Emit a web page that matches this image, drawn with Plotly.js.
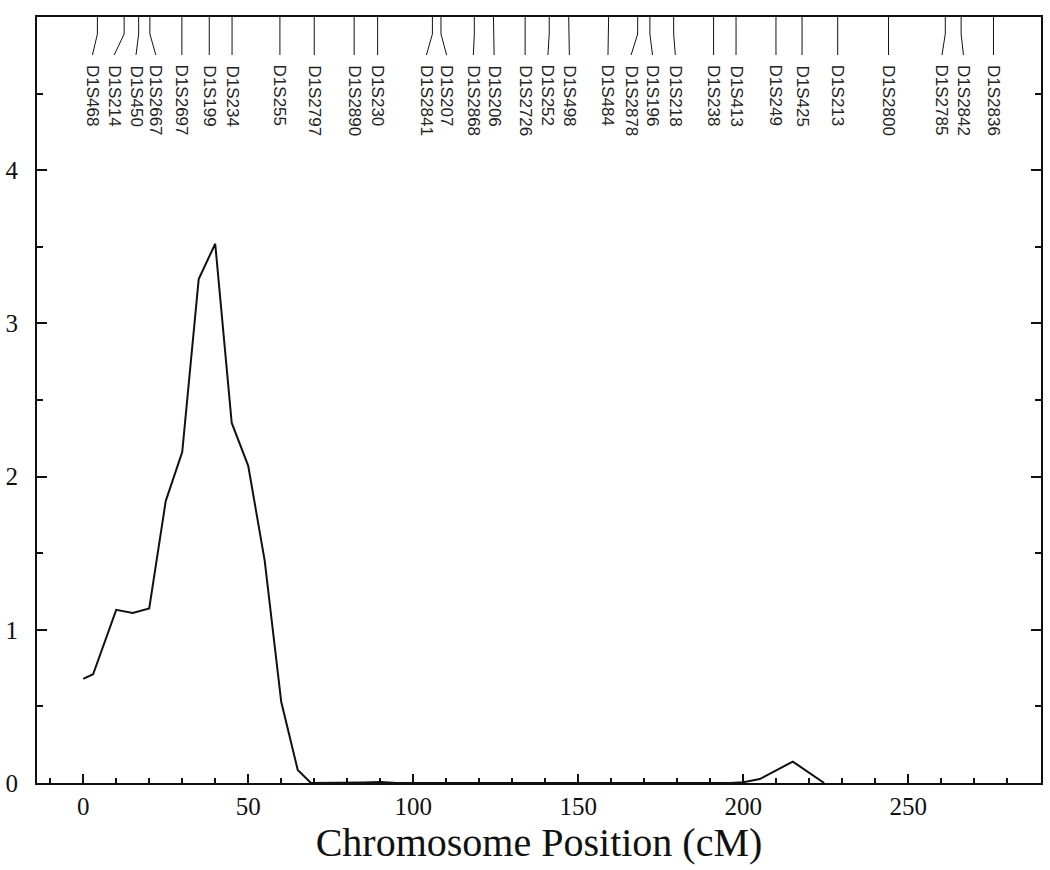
<!DOCTYPE html>
<html>
<head>
<meta charset="utf-8">
<script src="https://cdn.plot.ly/plotly-3.0.1.min.js"></script>
<style>
  body { margin: 0; background: #fff; }
  #plot { width: 1050px; height: 870px; }
</style>
</head>
<body>
<div id="plot"></div>
<script>
// LOD curve along chromosome 1
var pos_cM = [0, 3, 10, 15, 20, 25, 30, 35, 40, 45, 50, 55, 60, 65, 69, 75, 80, 85, 90, 95, 100,
              110, 120, 125, 130, 140, 150, 160, 170, 180, 190, 196, 200, 205, 215, 220, 224.5];
var lod = [0.68, 0.71, 1.13, 1.11, 1.14, 1.84, 2.16, 3.29, 3.52, 2.35, 2.07, 1.45, 0.53, 0.085, 0, 0, 0, 0.004, 0.006, 0, 0,
           0, 0, 0.004, 0.003, 0, 0, 0, 0, 0, 0, 0, 0.005, 0.026, 0.14, 0.065, 0];

// marker map along the top
var marker_names = ["D1S468", "D1S214", "D1S450", "D1S2667", "D1S2697", "D1S199", "D1S234", "D1S255",
                    "D1S2797", "D1S2890", "D1S230", "D1S2841", "D1S207", "D1S2868", "D1S206", "D1S2726",
                    "D1S252", "D1S498", "D1S484", "D1S2878", "D1S196", "D1S218", "D1S238", "D1S413",
                    "D1S249", "D1S425", "D1S213", "D1S2800", "D1S2785", "D1S2842", "D1S2836"];
var marker_pos = [4.3, 12.4, 16.8, 20.2, 29.9, 38.2, 45.1, 59.6,
                  70.0, 82.1, 89.2, 105.8, 108.4, 118.5, 124.3, 133.9,
                  141.2, 147.1, 159.2, 168.0, 171.7, 178.9, 191.0, 197.8,
                  209.9, 217.8, 228.6, 244.0, 261.2, 266.0, 275.8];
var label_pos = [2.8, 9.4, 16.0, 22.0, 29.9, 38.2, 45.1, 59.6,
                 70.0, 82.1, 89.2, 104.0, 110.1, 118.2, 124.5, 133.9,
                 140.8, 147.3, 159.0, 166.0, 172.5, 179.4, 191.0, 197.8,
                 209.9, 217.8, 228.6, 244.0, 260.2, 266.7, 275.8];

var plot_h = 766; // px height of plot area, used for the marker overlay axis
var drop1 = 17, drop2 = 38, label_top = 46;

var mx = [], my = [];
for (let i = 0; i < marker_pos.length; i++) {
    mx.push(marker_pos[i], marker_pos[i], label_pos[i], null);
    my.push(0, drop1, drop2, null);
}

var curve = {
    x: pos_cM, y: lod, type: 'scatter', mode: 'lines',
    line: { color: '#111', width: 2 }, hoverinfo: 'skip'
};
var marker_lines = {
    x: mx, y: my, yaxis: 'y2', type: 'scatter', mode: 'lines',
    line: { color: '#111', width: 1 }, hoverinfo: 'skip', connectgaps: false
};

var annotations = [];
for (let i = 0; i < marker_names.length; i++) {
    annotations.push({
        text: marker_names[i], x: label_pos[i], xref: 'x', y: label_top, yref: 'y2',
        xanchor: 'center', yanchor: 'top', textangle: 90, showarrow: false,
        font: { family: 'Liberation Sans, Arial, sans-serif', size: 17, color: '#222' }
    });
}

var layout = {
    width: 1050, height: 870,
    margin: { l: 37, r: 9, t: 17, b: 87 },
    paper_bgcolor: '#fff', plot_bgcolor: '#fff',
    showlegend: false,
    font: { family: 'Liberation Serif, Times New Roman, serif', color: '#111' },
    xaxis: {
        range: [-14, 290.2], tickmode: 'linear', tick0: 0, dtick: 50,
        ticks: 'inside', ticklen: 9, tickwidth: 2, tickcolor: '#111',
        minor: { dtick: 10, ticks: 'inside', ticklen: 5, tickwidth: 2, tickcolor: '#111' },
        showline: true, linewidth: 2, linecolor: '#111', mirror: true,
        showgrid: false, zeroline: false,
        tickfont: { size: 25 }, ticklabelstandoff: 0,
        title: { text: 'Chromosome Position (cM)', font: { size: 40 }, standoff: 0 }
    },
    yaxis: {
        range: [0, 5], tickmode: 'array', tickvals: [0, 1, 2, 3, 4],
        ticks: 'inside', ticklen: 10, tickwidth: 2, tickcolor: '#111',
        minor: { dtick: 0.5, ticks: 'inside', ticklen: 6, tickwidth: 2, tickcolor: '#111' },
        showline: true, linewidth: 2, linecolor: '#111', mirror: 'ticks',
        showgrid: false, zeroline: false,
        tickfont: { size: 25 }, ticklabelstandoff: 12
    },
    yaxis2: {
        overlaying: 'y', range: [plot_h, 0], visible: false, fixedrange: true
    },
    annotations: annotations
};

Plotly.newPlot('plot', [curve, marker_lines], layout, { displayModeBar: false, staticPlot: true });
</script>
</body>
</html>
